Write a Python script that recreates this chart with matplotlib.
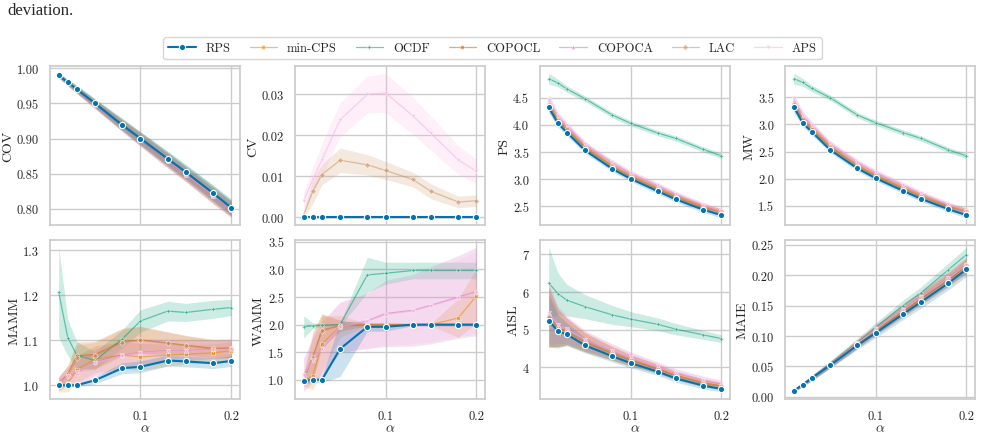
import matplotlib
matplotlib.use("Agg")
import matplotlib.pyplot as plt
import seaborn as sns

alphas = [0.01, 0.02, 0.03, 0.05, 0.08, 0.10, 0.13, 0.15, 0.18, 0.20]
methods = ["RPS", "min-CPS", "OCDF", "COPOCL", "COPOCA", "LAC", "APS"]

# mean values per metric and method
cov = {
    "RPS":     [0.990, 0.980, 0.970, 0.950, 0.919, 0.900, 0.871, 0.852, 0.822, 0.801],
    "min-CPS": [0.990, 0.980, 0.970, 0.949, 0.920, 0.900, 0.870, 0.850, 0.820, 0.800],
    "OCDF":    [0.990, 0.980, 0.971, 0.951, 0.921, 0.901, 0.872, 0.853, 0.823, 0.803],
    "COPOCL":  [0.989, 0.979, 0.969, 0.949, 0.918, 0.898, 0.868, 0.849, 0.818, 0.799],
    "COPOCA":  [0.989, 0.979, 0.969, 0.948, 0.918, 0.898, 0.868, 0.848, 0.818, 0.798],
    "LAC":     [0.990, 0.980, 0.970, 0.950, 0.920, 0.900, 0.870, 0.850, 0.820, 0.800],
    "APS":     [0.989, 0.979, 0.969, 0.949, 0.919, 0.899, 0.869, 0.849, 0.819, 0.799],
}
cv = {
    "RPS":     [0] * 10,
    "min-CPS": [0] * 10,
    "OCDF":    [0] * 10,
    "COPOCL":  [0] * 10,
    "COPOCA":  [0] * 10,
    "LAC":     [0.0006, 0.0063, 0.0104, 0.0139, 0.0128, 0.0114, 0.0092, 0.0063, 0.0037, 0.0040],
    "APS":     [0.0040, 0.0092, 0.0140, 0.0238, 0.0300, 0.0304, 0.0248, 0.0205, 0.0140, 0.0112],
}
ps = {
    "RPS":     [4.32, 4.03, 3.86, 3.53, 3.19, 3.01, 2.78, 2.63, 2.44, 2.34],
    "min-CPS": [4.38, 4.10, 3.93, 3.60, 3.25, 3.07, 2.84, 2.69, 2.50, 2.42],
    "OCDF":    [4.85, 4.77, 4.66, 4.48, 4.18, 4.03, 3.85, 3.75, 3.55, 3.43],
    "COPOCL":  [4.36, 4.08, 3.91, 3.58, 3.23, 3.05, 2.82, 2.67, 2.48, 2.40],
    "COPOCA":  [4.45, 4.16, 3.98, 3.64, 3.30, 3.11, 2.88, 2.72, 2.52, 2.40],
    "LAC":     [4.37, 4.09, 3.92, 3.59, 3.24, 3.06, 2.83, 2.68, 2.49, 2.41],
    "APS":     [4.46, 4.17, 3.99, 3.65, 3.31, 3.12, 2.89, 2.73, 2.53, 2.41],
}
mw = {
    "RPS":     [3.32, 3.02, 2.86, 2.53, 2.19, 2.01, 1.78, 1.63, 1.44, 1.33],
    "min-CPS": [3.38, 3.10, 2.93, 2.60, 2.25, 2.07, 1.84, 1.69, 1.50, 1.42],
    "OCDF":    [3.84, 3.77, 3.66, 3.49, 3.17, 3.03, 2.85, 2.74, 2.53, 2.42],
    "COPOCL":  [3.36, 3.08, 2.91, 2.58, 2.23, 2.05, 1.82, 1.67, 1.48, 1.40],
    "COPOCA":  [3.45, 3.16, 2.98, 2.64, 2.30, 2.11, 1.88, 1.72, 1.52, 1.40],
    "LAC":     [3.37, 3.09, 2.92, 2.59, 2.24, 2.06, 1.83, 1.68, 1.49, 1.41],
    "APS":     [3.46, 3.17, 2.99, 2.65, 2.31, 2.12, 1.89, 1.73, 1.53, 1.41],
}
mamm = {
    "RPS":     [1.000, 1.000, 1.000, 1.011, 1.038, 1.041, 1.055, 1.053, 1.049, 1.054],
    "min-CPS": [1.000, 1.005, 1.035, 1.058, 1.067, 1.063, 1.067, 1.069, 1.072, 1.077],
    "OCDF":    [1.207, 1.106, 1.067, 1.055, 1.103, 1.143, 1.165, 1.162, 1.169, 1.173],
    "COPOCL":  [1.003, 1.025, 1.066, 1.068, 1.097, 1.101, 1.094, 1.089, 1.082, 1.083],
    "COPOCA":  [1.005, 1.022, 1.028, 1.052, 1.067, 1.073, 1.077, 1.077, 1.080, 1.082],
    "LAC":     [1.002, 1.020, 1.060, 1.065, 1.095, 1.100, 1.093, 1.088, 1.080, 1.080],
    "APS":     [1.004, 1.020, 1.030, 1.050, 1.066, 1.072, 1.076, 1.076, 1.079, 1.080],
}
wamm = {
    "RPS":     [0.98, 1.00, 1.00, 1.56, 1.96, 1.96, 2.00, 2.00, 2.00, 2.00],
    "min-CPS": [0.98, 1.07, 1.65, 1.97, 2.00, 2.00, 2.00, 2.00, 2.12, 2.52],
    "OCDF":    [1.96, 1.98, 1.99, 2.00, 2.90, 2.93, 2.98, 2.98, 2.98, 2.98],
    "COPOCL":  [1.00, 1.42, 1.90, 1.98, 2.00, 2.00, 2.00, 2.00, 2.00, 2.00],
    "COPOCA":  [1.10, 1.35, 1.55, 1.95, 2.07, 2.20, 2.26, 2.35, 2.50, 2.60],
    "LAC":     [1.00, 1.40, 1.88, 1.98, 2.00, 2.00, 2.00, 2.00, 2.00, 2.00],
    "APS":     [1.08, 1.36, 1.56, 1.96, 2.06, 2.18, 2.25, 2.34, 2.48, 2.58],
}
aisl = {
    "RPS":     [5.24, 4.96, 4.87, 4.58, 4.29, 4.11, 3.88, 3.70, 3.51, 3.42],
    "min-CPS": [5.35, 5.05, 4.95, 4.67, 4.37, 4.19, 3.96, 3.78, 3.59, 3.50],
    "OCDF":    [6.24, 5.96, 5.78, 5.61, 5.39, 5.28, 5.14, 5.01, 4.86, 4.76],
    "COPOCL":  [5.33, 5.04, 4.94, 4.66, 4.36, 4.18, 3.95, 3.77, 3.58, 3.49],
    "COPOCA":  [5.42, 5.12, 5.00, 4.72, 4.43, 4.25, 4.01, 3.84, 3.65, 3.56],
    "LAC":     [5.34, 5.05, 4.95, 4.66, 4.37, 4.18, 3.96, 3.78, 3.58, 3.50],
    "APS":     [5.44, 5.13, 5.01, 4.73, 4.44, 4.26, 4.02, 3.85, 3.66, 3.57],
}
maie = {
    "RPS":     [0.010, 0.020, 0.031, 0.052, 0.085, 0.105, 0.136, 0.156, 0.187, 0.210],
    "min-CPS": [0.010, 0.020, 0.031, 0.053, 0.087, 0.110, 0.141, 0.162, 0.193, 0.216],
    "OCDF":    [0.010, 0.021, 0.032, 0.054, 0.089, 0.114, 0.150, 0.171, 0.209, 0.234],
    "COPOCL":  [0.010, 0.020, 0.031, 0.053, 0.087, 0.109, 0.140, 0.161, 0.192, 0.215],
    "COPOCA":  [0.010, 0.021, 0.031, 0.053, 0.088, 0.111, 0.144, 0.165, 0.196, 0.218],
    "LAC":     [0.010, 0.020, 0.031, 0.053, 0.087, 0.110, 0.142, 0.163, 0.194, 0.217],
    "APS":     [0.010, 0.021, 0.031, 0.053, 0.088, 0.111, 0.143, 0.164, 0.195, 0.217],
}

# standard deviations (band half-widths)
cov_sd = [0.003, 0.004, 0.005, 0.006, 0.008, 0.009, 0.010, 0.010, 0.011, 0.011]
cv_sd = {
    "LAC": [0.0008, 0.003, 0.0025, 0.003, 0.0025, 0.0022, 0.0018, 0.0018, 0.0014, 0.0014],
    "APS": [0.0022, 0.003, 0.004, 0.0042, 0.0045, 0.0048, 0.0045, 0.0042, 0.0035, 0.003],
}
ps_sd = [0.10, 0.07, 0.06, 0.05, 0.05, 0.05, 0.05, 0.05, 0.05, 0.05]
mamm_sd = {
    "RPS":  [0.003, 0.003, 0.003, 0.008, 0.012, 0.013, 0.012, 0.012, 0.012, 0.012],
    "OCDF": [0.100, 0.040, 0.030, 0.020, 0.020, 0.025, 0.022, 0.020, 0.020, 0.018],
    "other": [0.015, 0.020, 0.030, 0.030, 0.030, 0.030, 0.025, 0.022, 0.020, 0.020],
}
wamm_sd = {
    "RPS":     [0.05, 0.05, 0.05, 0.50, 0.08, 0.08, 0.02, 0.02, 0.02, 0.02],
    "min-CPS": [0.10, 0.25, 0.50, 0.20, 0.02, 0.02, 0.02, 0.02, 0.35, 0.50],
    "OCDF":    [0.20, 0.05, 0.03, 0.03, 0.32, 0.20, 0.15, 0.15, 0.15, 0.15],
    "COPOCL":  [0.10, 0.45, 0.30, 0.10, 0.02, 0.02, 0.02, 0.02, 0.02, 0.02],
    "COPOCA":  [0.30, 0.40, 0.50, 0.45, 0.50, 0.60, 0.65, 0.70, 0.75, 0.80],
    "LAC":     [0.10, 0.40, 0.30, 0.10, 0.02, 0.02, 0.02, 0.02, 0.02, 0.02],
    "APS":     [0.30, 0.40, 0.50, 0.45, 0.50, 0.55, 0.60, 0.65, 0.70, 0.75],
}
aisl_sd = {
    "RPS":   [0.70, 0.45, 0.30, 0.20, 0.15, 0.13, 0.10, 0.10, 0.09, 0.08],
    "OCDF":  [0.95, 0.55, 0.42, 0.32, 0.25, 0.20, 0.17, 0.15, 0.12, 0.10],
    "other": [0.80, 0.50, 0.35, 0.25, 0.18, 0.15, 0.12, 0.11, 0.10, 0.09],
}
maie_sd = [0.002, 0.003, 0.004, 0.005, 0.007, 0.008, 0.009, 0.010, 0.011, 0.012]

sns.set_theme(style="whitegrid", palette="colorblind")
plt.rcParams["font.family"] = ["cmr10", "DejaVu Serif"]
plt.rcParams["mathtext.fontset"] = "cm"
plt.rcParams["axes.formatter.use_mathtext"] = True
plt.rcParams["axes.unicode_minus"] = False

colors = dict(zip(methods, sns.color_palette("colorblind", 7)))
markers = {"RPS": "o", "min-CPS": "s", "OCDF": "P", "COPOCL": "o",
           "COPOCA": "^", "LAC": "D", "APS": "v"}


def band(sd, m):
    if isinstance(sd, dict):
        return sd.get(m, sd.get("other"))
    return sd


panels = [
    ("COV", cov, cov_sd, [0.80, 0.85, 0.90, 0.95, 1.00], "{:.2f}"),
    ("CV", cv, cv_sd, [0.00, 0.01, 0.02, 0.03], "{:.2f}"),
    ("PS", ps, ps_sd, [2.5, 3.0, 3.5, 4.0, 4.5], "{:.1f}"),
    ("MW", mw, ps_sd, [1.5, 2.0, 2.5, 3.0, 3.5], "{:.1f}"),
    ("MAMM", mamm, mamm_sd, [1.0, 1.1, 1.2, 1.3], "{:.1f}"),
    ("WAMM", wamm, wamm_sd, [1.0, 1.5, 2.0, 2.5, 3.0, 3.5], "{:.1f}"),
    ("AISL", aisl, aisl_sd, [4, 5, 6, 7], "{:d}"),
    ("MAIE", maie, maie_sd, [0.00, 0.05, 0.10, 0.15, 0.20, 0.25], "{:.2f}"),
]

fig, axes = plt.subplots(2, 4, figsize=(9.81, 4.35), dpi=100, sharex=True)
fig.subplots_adjust(left=0.051, right=0.994, top=0.846, bottom=0.080,
                    wspace=0.29, hspace=0.094)

handles = {}
for ax, (name, vals, sd, yt, fmt) in zip(axes.flat, panels):
    order = methods[1:] + ["RPS"]
    for m in order:
        y = vals[m]
        s = band(sd, m)
        if s is None:
            s = [0] * len(y)
        lo = [a - b for a, b in zip(y, s)]
        hi = [a + b for a, b in zip(y, s)]
        c = colors[m]
        ax.fill_between(alphas, lo, hi, color=c, alpha=0.2, lw=0)
        if m == "RPS":
            ln, = ax.plot(alphas, y, color=c, lw=1.5, marker="o", ms=4.5,
                          mec="white", mew=0.8, zorder=5, label=m)
        else:
            ln, = ax.plot(alphas, y, color=c, lw=0.9, marker=markers[m],
                          ms=3, mec="white", mew=0.5, alpha=0.55, label=m)
        handles[m] = ln
    ax.set_ylabel(name, fontsize=10)
    ax.set_yticks(yt)
    ax.set_yticklabels([fmt.format(v) for v in yt])
    ax.tick_params(labelsize=9, pad=2)
    ax.set_xticks([0.1, 0.2])
    ax.set_xticklabels(["0.1", "0.2"])
    ax.yaxis.labelpad = 2

for ax in axes[1]:
    ax.set_xlabel(r"$\alpha$", fontsize=10, labelpad=0)

fig.legend([handles[m] for m in methods], methods, loc="upper center",
           bbox_to_anchor=(0.502, 0.927), ncol=7, fontsize=9, frameon=True,
           handlelength=2.2, columnspacing=1.5, borderpad=0.4)

fig.text(0.008, 0.975, "deviation.", family="Liberation Serif", fontsize=12,
         va="center", ha="left")

fig.savefig("out.png", dpi=100)
